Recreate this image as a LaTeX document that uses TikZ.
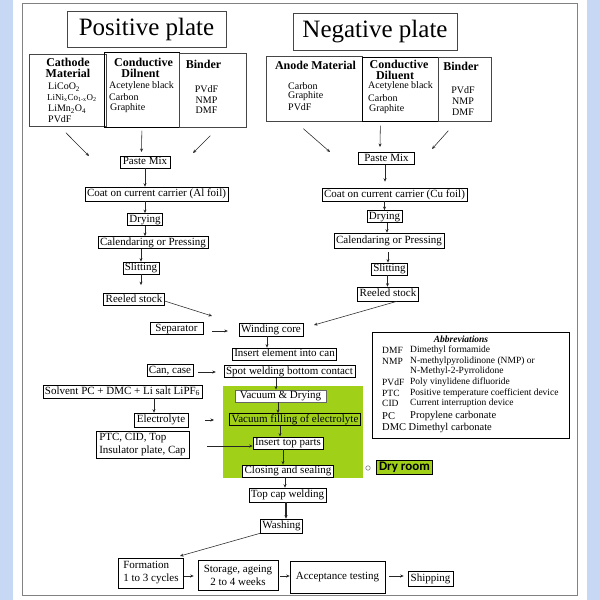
\documentclass[tikz,border=0pt]{standalone}
\usepackage{fontspec}
\setmainfont{Liberation Serif}
\newfontfamily\drf{Carlito}
\usetikzlibrary{arrows.meta}
\definecolor{bgblue}{RGB}{199,216,244}
\definecolor{lime}{RGB}{160,208,24}
\definecolor{framec}{RGB}{130,130,130}
\definecolor{bord}{RGB}{70,70,70}
\begin{document}
\begin{tikzpicture}[x=1pt,y=-1pt,
  every node/.style={inner sep=0pt},
  box/.style={draw=black,line width=0.6pt,fill=white,inner xsep=2pt,inner ysep=1.2pt,text height=7.6pt,text depth=2.2pt,font=\fontsize{11}{12}\selectfont},
  gbox/.style={box,fill=lime},
  mline/.style={draw=black,line width=0.6pt,fill=white,inner xsep=3pt,inner ysep=2pt,font=\fontsize{11}{13}\selectfont},
  subbox/.style={draw=bord,line width=0.7pt,anchor=north west},
  hdr/.style={font=\fontsize{12}{12}\selectfont\bfseries},
  itm/.style={font=\fontsize{10}{10}\selectfont},
  ab/.style={font=\fontsize{9.5}{10}\selectfont,anchor=west},
  arr/.style={-{Stealth[length=3.5pt,width=3pt]},line width=0.55pt,draw=black!85},
  varr/.style={arr,line width=1pt},
  titlebox/.style={draw=bord,line width=0.7pt,font=\fontsize{25}{25}\selectfont}]

% background and frame
\fill[bgblue] (0,0) rectangle (600,600);
\fill[white] (13,0) rectangle (587,600);
\draw[framec,line width=0.8pt] (22,3) rectangle (577,595);

% dry zone
\node[fill=lime,minimum width=140pt,minimum height=92pt,anchor=north west] (zone) at (223,386) {};

% titles
\node[titlebox,minimum width=159pt,minimum height=36pt] (ptitle) at (146.5,29) {Positive plate};
\node[titlebox,minimum width=164pt,minimum height=37pt] (ntitle) at (375,31.5) {Negative plate};

% positive ingredient boxes
\node[subbox,minimum width=77pt,minimum height=72pt] (pcat) at (29,54) {};
\node[subbox,minimum width=75pt,minimum height=75pt,draw=black] (pcon) at (104,52) {};
\node[subbox,minimum width=67pt,minimum height=74pt] (pbin) at (179,53) {};
\node[hdr] (t1) at (68,62) {Cathode};
\node[hdr] (t2) at (68,73) {Material};
\node[itm,anchor=west] (t3) at (48,87) {LiCoO\textsubscript{2}};
\node[itm,anchor=west,font=\fontsize{9}{10}\selectfont] (t4) at (47,98) {LiNi\textsubscript{x}Co\textsubscript{1-x}O\textsubscript{2}};
\node[itm,anchor=west] (t5) at (48,109) {LiMn\textsubscript{2}O\textsubscript{4}};
\node[itm,anchor=west] (t6) at (48,119) {PVdF};
\node[hdr] (t7) at (143.5,62) {Conductive};
\node[hdr] (t8) at (140.5,73) {Dilnent};
\node[itm,anchor=west] (t9) at (109,86) {Acetylene black};
\node[itm,anchor=west] (t10) at (109,97) {Carbon};
\node[itm,anchor=west] (t11) at (110,108) {Graphite};
\node[hdr] (t12) at (203.5,64) {Binder};
\node[itm] (t13) at (206.5,89) {PVdF};
\node[itm] (t14) at (206.5,100) {NMP};
\node[itm] (t15) at (206.5,110) {DMF};

% negative ingredient boxes
\node[subbox,minimum width=96pt,minimum height=65pt] (nano) at (266,56) {};
\node[subbox,minimum width=76pt,minimum height=64pt,draw=black] (ncon) at (362,57) {};
\node[subbox,minimum width=53pt,minimum height=64pt] (nbin) at (438,57) {};
\node[hdr] (u1) at (315.5,65) {Anode Material};
\node[itm,anchor=west] (u2) at (288,86) {Carbon};
\node[itm,anchor=west] (u3) at (288,96) {Graphite};
\node[itm,anchor=west] (u4) at (288,107) {PVdF};
\node[hdr] (u5) at (399,64) {Conductive};
\node[hdr] (u6) at (395,75) {Diluent};
\node[itm,anchor=west] (u7) at (368,86) {Acetylene black};
\node[itm,anchor=west] (u8) at (368,98) {Carbon};
\node[itm,anchor=west] (u9) at (369,109) {Graphite};
\node[hdr] (u10) at (461,66) {Binder};
\node[itm] (u11) at (463,90) {PVdF};
\node[itm] (u12) at (463,101) {NMP};
\node[itm] (u13) at (463,112) {DMF};

% positive chain
\node[box,minimum width=50pt] (pmix) at (145,162) {Paste Mix};
\node[box,minimum height=14pt] (pcoat) at (156.5,194) {Coat on current carrier (Al foil)};
\node[box] (pdry) at (145,219.5) {Drying};
\node[box] (pcal) at (153,242.5) {Calendaring or Pressing};
\node[box] (pslit) at (141,268) {Slitting};
\node[box] (preel) at (134,299.5) {Reeled stock};

% negative chain
\node[box,minimum width=56pt] (nmix) at (386.5,158.5) {Paste Mix};
\node[box,minimum height=13pt] (ncoat) at (394.5,194.5) {Coat on current carrier (Cu foil)};
\node[box] (ndry) at (384.5,216.5) {Drying};
\node[box,minimum height=15pt] (ncal) at (389,240.5) {Calendaring or Pressing};
\node[box] (nslit) at (389.5,269) {Slitting};
\node[box,minimum height=14pt] (nreel) at (388,294) {Reeled stock};

% assembly
\node[box,minimum width=53pt] (sep) at (176.5,328.5) {Separator};
\node[box,minimum height=13pt] (wind) at (271,329.5) {Winding core};
\node[box] (insert) at (284.5,354) {Insert element into can};
\node[box] (can) at (170,370.5) {Can, case};
\node[box] (spot) at (289.5,371.5) {Spot welding bottom contact};
\node[box,minimum height=13pt] (solv) at (122.5,391.5) {Solvent PC + DMC + Li salt LiPF\textsubscript{6}};
\node[box,minimum width=54pt,minimum height=14pt] (elec) at (161,420) {Electrolyte};
\node[mline,align=left,minimum width=93pt,minimum height=25pt] (ptc) at (142.5,444.5) {PTC, CID, Top\\Insulator plate, Cap};
\node[box,draw=black!60,minimum width=91pt] (vac) at (280.5,396) {Vacuum \& Drying};
\node[gbox] (vfill) at (295,419.5) {Vacuum filling of electrolyte};
\node[box] (itop) at (288,443) {Insert top parts};
\node[box] (close) at (288,471) {Closing and sealing};
\node[gbox,font=\drf\bfseries\fontsize{13}{14}\selectfont,text height=9pt,text depth=3pt,inner xsep=2.5pt] (dry) at (404.5,467) {Dry room};
\node[draw=black!50,circle,minimum size=4.5pt,line width=0.6pt] (drymark) at (368,468) {};
\node[box,minimum height=14pt] (topcap) at (287.5,495) {Top cap welding};
\node[box,minimum height=14pt] (wash) at (281.5,526) {Washing};
\node[mline,align=left,minimum width=62pt,minimum height=30pt,inner xsep=5pt] (form) at (151,573) {Formation\\1 to 3 cycles};
\node[mline,align=center,minimum width=80pt,minimum height=30pt] (stor) at (238,575) {Storage, ageing\\2 to 4 weeks};
\node[mline,minimum width=95pt,minimum height=32pt] (accept) at (337.5,577) {Acceptance testing};
\node[box,minimum width=45pt,minimum height=15pt] (ship) at (430.5,578.5) {Shipping};

% abbreviations
\node[draw=black,line width=1.3pt,minimum width=197pt,minimum height=106pt,anchor=north west] (abbr) at (372,332) {};
\node[font=\fontsize{9.5}{10}\selectfont\bfseries\itshape] (abt) at (461,339) {Abbreviations};
\node[ab] (a1) at (382,350) {DMF};
\node[ab] (a1d) at (410,350) {Dimethyl formamide};
\node[ab] (a2) at (382,361) {NMP};
\node[ab] (a2d) at (410,361) {N-methylpyrolidinone (NMP) or};
\node[ab] (a2e) at (410,371.5) {N-Methyl-2-Pyrrolidone};
\node[ab] (a3) at (382,382) {PVdF};
\node[ab] (a3d) at (410,382) {Poly vinylidene difluoride};
\node[ab] (a4) at (382,393) {PTC};
\node[ab] (a4d) at (410,393) {Positive temperature coefficient device};
\node[ab] (a5) at (382,403.5) {CID};
\node[ab] (a5d) at (410,403.5) {Current interruption device};
\node[ab,font=\fontsize{10.5}{11}\selectfont] (a6) at (382,416) {PC};
\node[ab,font=\fontsize{10.5}{11}\selectfont] (a6d) at (410,416) {Propylene carbonate};
\node[ab,font=\fontsize{10.5}{11}\selectfont] (a7) at (382,428) {DMC Dimethyl carbonate};

% ingredient arrows
\coordinate (pe1) at (89,156);
\coordinate (pe2) at (141.5,152);
\coordinate (pe3) at (193,153);
\draw[arr] ([xshift=-2pt,yshift=-6pt]pcat.south) -- (pe1);
\draw[arr] ([yshift=-3pt]pcon.south) -- (pe2);
\draw[arr] ([xshift=-2.5pt,yshift=-8pt]pbin.south) -- (pe3);
\coordinate (ne1) at (330,152);
\coordinate (ne2) at (380,147);
\coordinate (ne3) at (432,149);
\draw[arr] ([xshift=-11pt,yshift=-7pt]nano.south) -- (ne1);
\draw[arr] ([xshift=-20pt,yshift=-4pt]ncon.south) -- (ne2);
\draw[arr] ([xshift=-16.5pt,yshift=-9pt]nbin.south) -- (ne3);

% positive chain arrows
\draw[varr] (pmix.south) -- (pmix.south |- pcoat.north);
\draw[varr] (pdry.north |- pcoat.south) -- (pdry.north);
\draw[varr] (pdry.south) -- (pdry.south |- pcal.north);
\draw[varr] (pslit.north |- pcal.south) -- (pslit.north);
\draw[varr,shorten >=8pt] (pslit.south) -- (pslit.south |- preel.north);

% negative chain arrows
\draw[varr,shorten >=6pt] ([xshift=-1.5pt]nmix.south) -- ([xshift=-1.5pt]nmix.south |- ncoat.north);
\draw[varr] (ndry.north |- ncoat.south) -- (ndry.north);
\draw[varr] ([xshift=2.5pt]ndry.south) -- ([xshift=2.5pt]ndry.south |- ncal.north);
\draw[varr,shorten <=4pt] ([xshift=-1pt]ncal.south) -- ([xshift=-1pt]ncal.south |- nslit.north);
\draw[varr] ([xshift=-2pt]nslit.south) -- ([xshift=-2pt]nslit.south |- nreel.north);

% to winding core
\coordinate (w1) at (212,316);
\coordinate (w2) at (314,325);
\draw[arr] ([yshift=-1.5pt]preel.east) -- (w1);
\draw[arr] ([xshift=9pt]nreel.south) -- (w2);
\draw[arr,shorten <=9pt,shorten >=11pt] ([yshift=-2.5pt]sep.east) -- ([yshift=-2.5pt]sep.east -| wind.west);
\draw[varr] ([xshift=-4pt]wind.south) -- ([xshift=-4pt]wind.south |- insert.north);
\draw[arr,shorten <=5pt,shorten >=8pt] ([yshift=-1.5pt]can.east) -- ([yshift=-1.5pt]can.east -| spot.west);
\draw[varr] ([xshift=-13.5pt]spot.south) -- ([xshift=-13.5pt]spot.south |- vac.north);
\draw[arr] (solv.south -| elec.north) ++(-7pt,0) coordinate (s1) -- (s1 |- elec.north);
\draw[arr,shorten <=17pt,shorten >=9pt] (elec.east) -- (elec.east -| zone.west);
\draw[arr,shorten <=18pt] ([yshift=-1.5pt]ptc.east) -- ([yshift=-1.5pt]ptc.east -| itop.west) coordinate (pp);
\draw[varr] ([xshift=-2.5pt]vac.south) -- ([xshift=-2.5pt]vac.south |- vfill.north);
\draw[varr] ([xshift=-15pt]vfill.south) -- ([xshift=-15pt]vfill.south |- itop.north);
\draw[varr] ([xshift=-5pt]itop.south) -- ([xshift=-5pt]itop.south |- close.north);
\draw[varr] ([xshift=-3pt]close.south) -- ([xshift=-3pt]close.south |- topcap.north);
\draw[varr,line width=1.4pt] ([xshift=-1.5pt]topcap.south) -- ([xshift=-1.5pt]topcap.south |- wash.north);
\coordinate (w3) at (180,556);
\draw[arr] (wash.south west) -- (w3);
\draw[arr,shorten >=4pt] (form.east |- 0,576) -- (stor.west |- 0,576);
\draw[arr,shorten <=1.5pt] (stor.east |- 0,576) -- (accept.west |- 0,576);
\draw[arr,shorten <=4pt,shorten >=4pt] (accept.east |- 0,576) -- (ship.west |- 0,576);

\end{tikzpicture}
\end{document}
